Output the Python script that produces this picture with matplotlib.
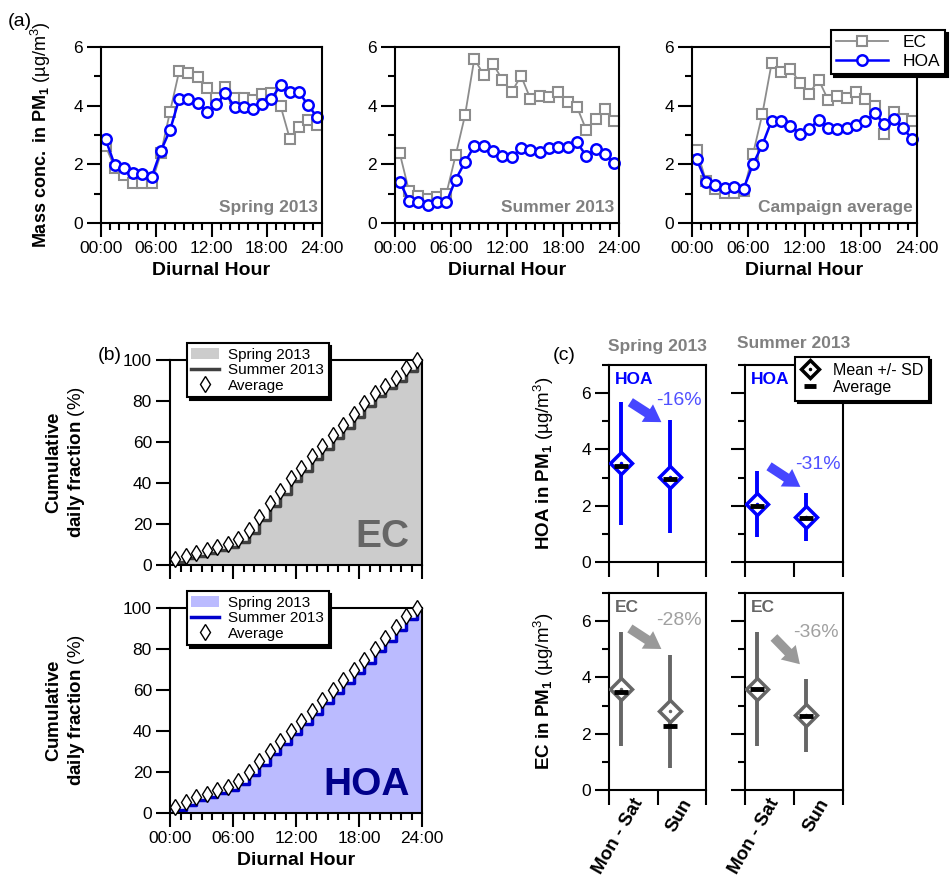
import matplotlib
matplotlib.use('Agg')
import matplotlib.pyplot as plt
import numpy as np
from matplotlib.ticker import MultipleLocator, FixedLocator
from matplotlib.lines import Line2D

plt.rcParams['font.family'] = ['Liberation Sans', 'DejaVu Sans']
plt.rcParams['mathtext.fontset'] = 'custom'
plt.rcParams['mathtext.rm'] = 'Liberation Sans'
plt.rcParams['mathtext.bf'] = 'Liberation Sans:bold'
plt.rcParams['mathtext.it'] = 'Liberation Sans:italic'

# ---- data ----
hours = np.arange(24) + 0.5
hour_ticks = [0, 6, 12, 18, 24]
hour_labels = ['00:00', '06:00', '12:00', '18:00', '24:00']

ec_spring = [2.62, 1.88, 1.63, 1.37, 1.37, 1.37, 2.37, 3.80, 5.19, 5.13, 4.99, 4.60,
             4.26, 4.65, 4.25, 4.25, 4.20, 4.39, 4.42, 3.99, 2.88, 3.28, 3.51, 3.34]
hoa_spring = [2.85, 1.97, 1.86, 1.69, 1.66, 1.57, 2.46, 3.17, 4.24, 4.24, 4.10, 3.80,
              4.04, 4.42, 3.97, 3.97, 3.88, 4.06, 4.24, 4.69, 4.45, 4.46, 4.01, 3.60]
ec_summer = [2.39, 1.09, 0.91, 0.83, 0.89, 1.00, 2.31, 3.67, 5.60, 5.05, 5.43, 4.88,
             4.46, 5.02, 4.24, 4.34, 4.28, 4.48, 4.14, 3.95, 3.17, 3.53, 3.88, 3.48]
hoa_summer = [1.41, 0.75, 0.70, 0.63, 0.70, 0.70, 1.48, 2.08, 2.62, 2.62, 2.47, 2.28,
              2.26, 2.54, 2.49, 2.41, 2.54, 2.58, 2.60, 2.75, 2.28, 2.53, 2.34, 2.03]
ec_avg = [2.49, 1.43, 1.17, 1.03, 1.03, 1.09, 2.34, 3.71, 5.46, 5.14, 5.26, 4.78,
          4.40, 4.89, 4.21, 4.32, 4.26, 4.46, 4.23, 4.00, 3.05, 3.77, 3.56, 3.49]
hoa_avg = [2.17, 1.41, 1.31, 1.20, 1.22, 1.17, 2.00, 2.66, 3.49, 3.47, 3.31, 3.05,
           3.19, 3.52, 3.23, 3.20, 3.23, 3.35, 3.47, 3.74, 3.39, 3.56, 3.23, 2.86]

# cumulative daily fraction (%)
cum_ec_avg = [2.8, 4.4, 6.0, 7.3, 8.6, 10.2, 12.7, 17.1, 23.6, 30.1, 36.3, 42.4,
              47.5, 53.3, 58.0, 63.4, 68.3, 73.7, 78.9, 83.7, 87.5, 91.1, 95.9, 100.0]
cum_ec_summer = [1.6, 3.2, 4.6, 5.9, 7.2, 8.8, 11.2, 15.4, 21.9, 28.6, 34.8, 40.8,
                 46.0, 51.6, 56.5, 61.8, 66.8, 72.1, 77.4, 82.2, 86.1, 89.8, 94.4, 98.6]
cum_ec_spring = [1.8, 3.4, 4.8, 6.1, 7.4, 9.0, 11.5, 15.6, 22.1, 28.8, 35.0, 41.0,
                 46.2, 51.8, 56.7, 62.0, 67.0, 72.3, 77.6, 82.4, 86.3, 90.0, 94.6, 98.8]
cum_hoa_avg = [2.8, 5.4, 7.6, 9.4, 11.1, 12.7, 15.8, 19.8, 25.2, 30.1, 35.3, 39.8,
               44.7, 49.9, 55.0, 60.2, 65.0, 69.9, 74.8, 80.2, 85.4, 90.6, 95.9, 100.0]
cum_hoa_summer = [1.5, 4.0, 6.2, 8.0, 9.7, 11.3, 14.3, 18.3, 23.6, 28.6, 33.8, 38.3,
                  43.2, 48.4, 53.5, 58.7, 63.6, 68.5, 73.4, 78.8, 84.0, 89.2, 94.5, 98.6]
cum_hoa_spring = [1.7, 4.2, 6.4, 8.2, 9.9, 11.5, 14.5, 18.5, 23.8, 28.8, 34.0, 38.5,
                  43.4, 48.6, 53.7, 58.9, 63.8, 68.7, 73.6, 79.0, 84.2, 89.4, 94.7, 98.8]

# weekday / weekend
days = ['Mon - Sat', 'Sun']
day_x = [0.25, 1.25]
hoa_spring_mean = [3.51, 3.03]
hoa_spring_sd = [2.19, 2.00]
hoa_spring_ave = [3.40, 2.95]
hoa_summer_mean = [2.07, 1.60]
hoa_summer_sd = [1.18, 0.84]
hoa_summer_ave = [2.00, 1.55]
ec_spring_mean = [3.58, 2.79]
ec_spring_sd = [2.02, 2.00]
ec_spring_ave = [3.49, 2.27]
ec_summer_mean = [3.58, 2.65]
ec_summer_sd = [2.02, 1.29]
ec_summer_ave = [3.59, 2.63]
changes = ['-16%', '-31%', '-28%', '-36%']

BLUE = '#0000ff'
EC_GRAY = '#8c8c8c'
DARK_GRAY = '#666666'

fig = plt.figure(figsize=(9.52, 8.8), dpi=100)
W, H = 952., 880.


def box(l, t, r, b):
    return [l / W, 1 - b / H, (r - l) / W, (b - t) / H]


def style(ax):
    for s in ax.spines.values():
        s.set_linewidth(1.5)
    ax.tick_params(which='major', direction='out', length=10, width=1.5,
                   labelsize=12.5, pad=3)
    ax.tick_params(which='minor', direction='out', length=5, width=1.5)


def hour_axis(ax, labels=True):
    ax.set_xlim(0, 24)
    ax.xaxis.set_major_locator(FixedLocator(hour_ticks))
    ax.xaxis.set_minor_locator(MultipleLocator(1))
    if labels:
        ax.set_xticklabels(hour_labels)
        ax.set_xlabel('Diurnal Hour', fontsize=14, fontweight='bold', labelpad=4)
    else:
        ax.set_xticklabels([])


# ---- panel (a) ----
axes_a = [fig.add_axes(box(101, 47, 322, 223)),
          fig.add_axes(box(395, 47, 619, 223)),
          fig.add_axes(box(692, 47, 917, 223))]
series_a = [(ec_spring, hoa_spring, 'Spring 2013'),
            (ec_summer, hoa_summer, 'Summer 2013'),
            (ec_avg, hoa_avg, 'Campaign average')]
for ax, (ec, hoa, name) in zip(axes_a, series_a):
    ax.plot(hours, ec, color=EC_GRAY, lw=1.3, marker='s', ms=7, mfc='white',
            mec=EC_GRAY, mew=1.5, label='EC', clip_on=False)
    ax.plot(hours, hoa, color=BLUE, lw=1.8, marker='o', ms=7.5, mfc='white',
            mec=BLUE, mew=1.8, label='HOA', clip_on=False)
    ax.set_ylim(0, 6)
    ax.yaxis.set_major_locator(MultipleLocator(2))
    ax.yaxis.set_minor_locator(MultipleLocator(1))
    hour_axis(ax)
    style(ax)
    ax.text(0.98, 0.045, name, transform=ax.transAxes, ha='right', va='bottom',
            fontsize=12.5, fontweight='bold', color='#808080')

axes_a[0].set_ylabel(r'$\mathbf{Mass\ conc.\ in\ PM_1}$ (µg/m$^3$)', fontsize=13)
axes_a[0].yaxis.set_label_coords(-0.215, 0.5)
leg = axes_a[2].legend(loc='upper right', bbox_to_anchor=(945 / W, 1 - 30 / H),
                       bbox_transform=fig.transFigure, fontsize=12.5, handlelength=3.0,
                       fancybox=False, framealpha=1, edgecolor='black',
                       borderpad=0.3, labelspacing=0.2, borderaxespad=0,
                       shadow={'color': 'black', 'alpha': 1})
leg.get_frame().set_linewidth(1.5)

# ---- panel (b) ----
axes_b = [fig.add_axes(box(170, 360, 422, 565)), fig.add_axes(box(170, 608, 422, 813))]
series_b = [(cum_ec_spring, cum_ec_summer, cum_ec_avg, '#cccccc', '#404040', 'EC', '#666666'),
            (cum_hoa_spring, cum_hoa_summer, cum_hoa_avg, '#bbbbff', '#0000cc', 'HOA', '#00008b')]
for i, (ax, (spr, smr, avg, fc, lc, name, tc)) in enumerate(zip(axes_b, series_b)):
    ax.fill_between(np.r_[0, hours, 24], np.r_[spr[0], spr, spr[-1]], step='post',
                    color=fc, lw=0, label='Spring 2013')
    ax.step(hours, smr, where='post', color=lc, lw=2.5, label='Summer 2013')
    ax.plot(hours, avg, ls='none', marker='d', ms=8, mfc='white', mec='black',
            mew=1.0, label='Average', clip_on=False, zorder=5)
    ax.set_ylim(0, 100)
    ax.yaxis.set_major_locator(MultipleLocator(20))
    hour_axis(ax, labels=(i == 1))
    style(ax)
    ax.set_ylabel('$\\mathbf{Cumulative}$\n$\\mathbf{daily\\ fraction}$ (%)', fontsize=13.5)
    ax.yaxis.set_label_coords(-0.33, 0.5)
    ax.text(0.95, 0.05, name, transform=ax.transAxes, ha='right', va='bottom',
            fontsize=28, fontweight='bold', color=tc)
    lg = ax.legend(loc='upper left', bbox_to_anchor=(0.067, 1.083), fontsize=11,
                   handlelength=1.8, fancybox=False, framealpha=1, edgecolor='black',
                   borderpad=0.3, labelspacing=0.1, handletextpad=0.6, borderaxespad=0,
                   shadow={'color': 'black', 'alpha': 1})
    lg.get_frame().set_linewidth(1.5)

# ---- panel (c) ----
axes_c = [fig.add_axes(box(609, 365, 706, 562)), fig.add_axes(box(745, 365, 843, 562)),
          fig.add_axes(box(609, 593, 706, 790)), fig.add_axes(box(745, 593, 843, 790))]
series_c = [(hoa_spring_mean, hoa_spring_sd, hoa_spring_ave, BLUE, '#4646ff', '#5050ff', 'HOA'),
            (hoa_summer_mean, hoa_summer_sd, hoa_summer_ave, BLUE, '#4646ff', '#5050ff', 'HOA'),
            (ec_spring_mean, ec_spring_sd, ec_spring_ave, DARK_GRAY, '#999999', '#a0a0a0', 'EC'),
            (ec_summer_mean, ec_summer_sd, ec_summer_ave, DARK_GRAY, '#999999', '#a0a0a0', 'EC')]
arrows = [((0.44, 5.68), (1.08, 4.97), (1.45, 5.74)),
          ((0.49, 3.40), (1.13, 2.67), (1.48, 3.46)),
          ((0.43, 5.74), (1.08, 5.01), (1.45, 6.01)),
          ((0.59, 5.42), (1.12, 4.47), (1.45, 5.60))]
for i, ax in enumerate(axes_c):
    mean, sd, ave, col, acol, tcol, name = series_c[i]
    for x, m, s, a in zip(day_x, mean, sd, ave):
        ax.plot([x, x], [m - s, m + s], color=col, lw=2.8, solid_capstyle='butt')
        ax.plot(x, m, marker='D', ms=11, mfc='white', mec=col, mew=2.5, zorder=4)
        ax.plot(x, m, marker='.', ms=3, color=col, zorder=5)
        ax.plot(x, a, marker='_', ms=10, mew=3.5, color='black', zorder=6)
    (x0, y0), (x1, y1), (tx, ty) = arrows[i]
    ax.annotate('', xy=(x1, y1), xytext=(x0, y0),
                arrowprops=dict(arrowstyle='simple,head_length=0.6,head_width=0.75,tail_width=0.34',
                                fc=acol, ec='none', shrinkA=0, shrinkB=0, mutation_scale=20))
    ax.text(tx, ty, changes[i], ha='center', va='center', fontsize=14, color=tcol)
    ax.text(0.06, 0.965, name, transform=ax.transAxes, ha='left', va='top',
            fontsize=12.5, fontweight='bold', color=col)
    ax.set_xlim(0, 2)
    ax.set_ylim(0, 7)
    ax.xaxis.set_major_locator(FixedLocator([0, 1, 2]))
    ax.set_xticklabels([])
    ax.yaxis.set_major_locator(MultipleLocator(2))
    ax.yaxis.set_minor_locator(MultipleLocator(1))
    style(ax)
    ax.tick_params(axis='x', which='major', length=10.5)
    if i % 2 == 1:
        ax.set_yticklabels([])
    if i >= 2:
        for lx, lab in zip([0.62, 1.64], days):
            ax.text(lx, -0.05, lab, transform=ax.get_xaxis_transform(), rotation=60,
                    rotation_mode='anchor', ha='right', va='center',
                    fontsize=13.5, fontweight='bold')

axes_c[0].set_title('Spring 2013', fontsize=12.5, fontweight='bold', color='#808080', pad=10)
axes_c[1].set_title('Summer 2013', fontsize=12.5, fontweight='bold', color='#808080', pad=12)
axes_c[0].set_ylabel(r'$\mathbf{HOA\ in\ PM_1}$ (µg/m$^3$)', fontsize=13.5)
axes_c[2].set_ylabel(r'$\mathbf{EC\ in\ PM_1}$ (µg/m$^3$)', fontsize=13.5)
axes_c[0].yaxis.set_label_coords(-0.55, 0.5)
axes_c[2].yaxis.set_label_coords(-0.55, 0.5)

handles = [(Line2D([], [], ls='none', marker='D', ms=9, mfc='white', mec='black', mew=2.5),
            Line2D([], [], ls='none', marker='.', ms=3, color='black')),
           Line2D([], [], ls='none', marker='_', ms=9, mew=3.5, color='black')]
lgc = axes_c[1].legend(handles, ['Mean +/- SD', 'Average'], loc='upper left',
                       bbox_to_anchor=(795 / W, 1 - 357 / H), bbox_transform=fig.transFigure,
                       fontsize=11.5, handlelength=1.2, fancybox=False, framealpha=1,
                       edgecolor='black', borderpad=0.35, labelspacing=0.15, borderaxespad=0,
                       shadow={'color': 'black', 'alpha': 1})
lgc.get_frame().set_linewidth(1.5)

fig.text(8 / W, 1 - 22 / H, '(a)', fontsize=14, va='center')
fig.text(98 / W, 1 - 355 / H, '(b)', fontsize=14, va='center')
fig.text(553 / W, 1 - 355 / H, '(c)', fontsize=14, va='center')

fig.savefig('out.png', dpi=100)
